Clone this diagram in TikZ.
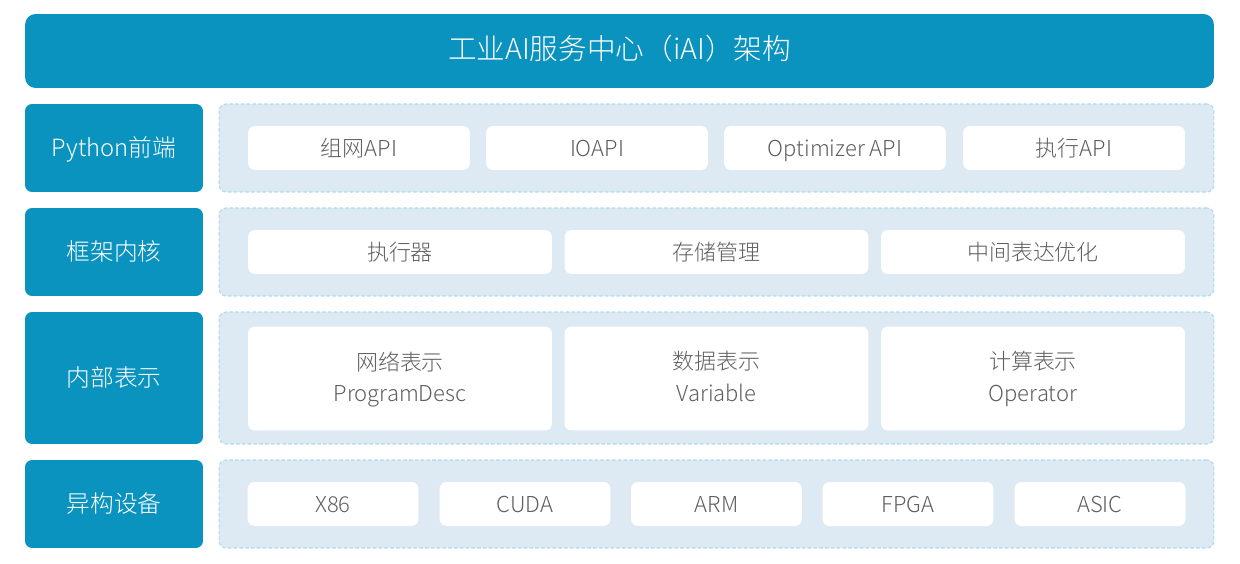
\documentclass[tikz,border=0pt]{standalone}
\usepackage{fontspec}
\newfontfamily\cjklight{Noto Sans CJK SC Light}
\definecolor{iaiblue}{RGB}{10,147,190}
\definecolor{panelbg}{RGB}{222,234,243}
\definecolor{paneldash}{RGB}{170,218,236}
\definecolor{itemtext}{RGB}{95,95,95}
\tikzset{
  titlebar/.style={fill=iaiblue, rounded corners=6pt, minimum width=23.78cm, minimum height=1.48cm,
    text=white, text height=1.05em, text depth=0.1em, font=\cjklight\fontsize{16.3}{18}\selectfont},
  layerbox/.style={fill=iaiblue, rounded corners=4pt, minimum width=3.56cm,
    text=white, text height=1.05em, text depth=0.1em, font=\cjklight\fontsize{13.5}{16}\selectfont},
  panel/.style={fill=panelbg, draw=paneldash, line width=0.6pt, dash pattern=on 2pt off 1.3pt,
    rounded corners=4pt, minimum width=19.9cm},
  item/.style={fill=white, rounded corners=4pt, text=itemtext, align=center,
    text depth=0.22em, font=\cjklight\fontsize{12.5}{18}\selectfont},
  itemrow/.style={item, text height=1.05em, text depth=0.1em, minimum height=0.88cm}
}
\begin{document}
\begin{tikzpicture}[x=0.02cm, y=-0.02cm]
  \useasboundingbox (0,0) rectangle (1240,564);
  % 标题
  \node[titlebar] (title) at (619.5,51) {工业AI服务中心（iAI）架构};
  % 左侧层名
  \node[layerbox, minimum height=1.76cm] (front) at (114,148) {Python前端};
  \node[layerbox, minimum height=1.76cm] (kernel) at (114,252) {框架内核};
  \node[layerbox, minimum height=2.64cm] (repr) at (114,378) {内部表示};
  \node[layerbox, minimum height=1.76cm] (hw) at (114,504) {异构设备};
  % 右侧面板
  \node[panel, minimum height=1.76cm] (pfront) at (716.5,148) {};
  \node[panel, minimum height=1.76cm] (pkernel) at (716.5,252) {};
  \node[panel, minimum height=2.64cm] (prepr) at (716.5,378) {};
  \node[panel, minimum height=1.76cm] (phw) at (716.5,504) {};
  % Python前端
  \node[itemrow, minimum width=4.44cm] (netapi) at (359,148) {组网API};
  \node[itemrow, minimum width=4.44cm] (ioapi) at (597,148) {IOAPI};
  \node[itemrow, minimum width=4.44cm] (optapi) at (835,148) {Optimizer API};
  \node[itemrow, minimum width=4.44cm] (execapi) at (1074,148) {执行API};
  % 框架内核
  \node[itemrow, minimum width=6.08cm] (executor) at (400,252) {执行器};
  \node[itemrow, minimum width=6.08cm] (storage) at (716.5,252) {存储管理};
  \node[itemrow, minimum width=6.08cm] (iropt) at (1033,252) {中间表达优化};
  % 内部表示
  \node[item, minimum width=6.08cm, minimum height=2.08cm] (program) at (400,378.5) {网络表示\\ProgramDesc};
  \node[item, minimum width=6.08cm, minimum height=2.08cm] (variable) at (716.5,378.5) {数据表示\\Variable};
  \node[item, minimum width=6.08cm, minimum height=2.08cm] (operator) at (1033,378.5) {计算表示\\Operator};
  % 异构设备
  \node[itemrow, minimum width=3.42cm] (xeb) at (333,504) {X86};
  \node[itemrow, minimum width=3.42cm] (cuda) at (525,504) {CUDA};
  \node[itemrow, minimum width=3.42cm] (arm) at (716.5,504) {ARM};
  \node[itemrow, minimum width=3.42cm] (fpga) at (908,504) {FPGA};
  \node[itemrow, minimum width=3.42cm] (asic) at (1100,504) {ASIC};
\end{tikzpicture}
\end{document}
